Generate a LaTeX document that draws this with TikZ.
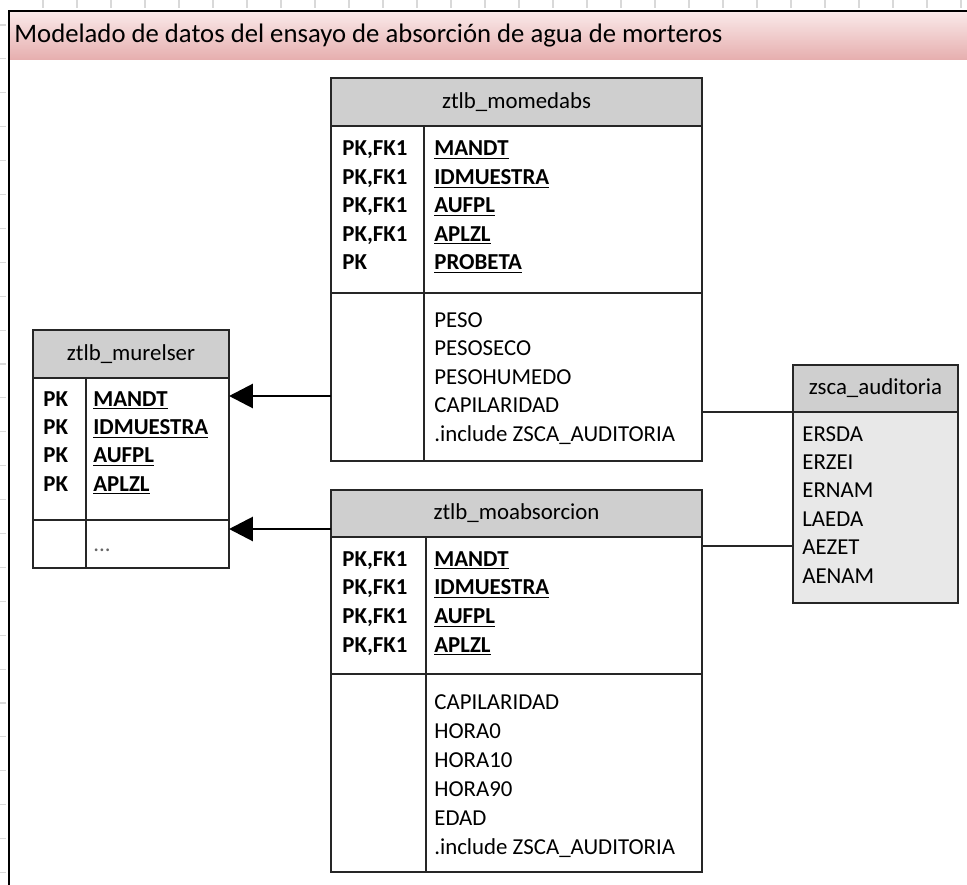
\documentclass[tikz,border=0pt]{standalone}
\usepackage{fontspec}
\setmainfont{Carlito}
\usetikzlibrary{arrows.meta,positioning,fit}
\definecolor{titletop}{RGB}{250,234,234}
\definecolor{titlebot}{RGB}{230,174,174}
\tikzset{
  tbl/.style={draw=black!85, line width=1pt, inner sep=0pt, outer sep=0pt},
  hdr/.style={tbl, fill=black!19},
  hdrtext/.style={inner sep=0pt, font=\fontsize{13}{16}\selectfont},
  fld/.style={anchor=base west, inner sep=0pt, font=\fontsize{13}{16}\selectfont},
  keyfld/.style={fld, font=\fontsize{13}{16}\selectfont\bfseries},
  fkarrow/.style={draw=black, line width=1.7pt, -{Triangle[length=0.48cm,width=0.48cm]}},
  link/.style={draw=black!85, line width=0.7pt},
  tick/.style={draw=black!15, line width=0.6pt}
}
\newcommand{\pkfield}[1]{\underline{#1}}

\begin{document}
\begin{tikzpicture}[x=0.02cm,y=-0.02cm]
\useasboundingbox (0,0) rectangle (967,885);

\foreach \x in {1,...,28} {
\draw[tick] ({9+34*\x},0) -- ++(0,8);
}
\foreach \y in {0,...,25} {
\draw[tick] (0,{25+33.9*\y}) -- ++(6,0);
}

\shade[top color=titletop, bottom color=titlebot] (9,11) rectangle (967,60);
\draw[line width=1pt] (967,11) -- (9,11) -- (9,885);
\node (title) at (14,36) [anchor=west, inner sep=0pt, font=\fontsize{15.2}{18}\selectfont] {Modelado de datos del ensayo de absorción de agua de morteros};

\node (mom-h) [hdr, fit={(331,78) (702,126)}] {};
\node (mom-t) at (mom-h) [hdrtext] {ztlb\_momedabs};
\node (mom-k) [tbl, fit={(331,126) (702,293)}] {};
\node (mom-a) [tbl, fit={(331,293) (702,461)}] {};
\coordinate (mom-c) at (424,126);
\draw[tbl] (mom-c) -- (mom-c |- mom-a.south);
\foreach \i in {1,2,3,4} {
\node (mom-pk\i) at (342,{156+28.4*(\i-1)}) [keyfld] {PK,FK1};
}
\node (mom-pk5) at (342,{156+28.4*4}) [keyfld] {PK};
\foreach \f [count=\i] in {MANDT,IDMUESTRA,AUFPL,APLZL,PROBETA} {
\node (mom-f\i) at (434,{156+28.4*(\i-1)}) [keyfld] {\pkfield{\f}};
}
\foreach \f [count=\i] in {PESO,PESOSECO,PESOHUMEDO,CAPILARIDAD,.include ZSCA\_AUDITORIA} {
\node (mom-a\i) at (434,{327+28.6*(\i-1)}) [fld] {\f};
}

\node (mur-h) [hdr, fit={(33,330) (229,378)}] {};
\node (mur-t) at (mur-h) [hdrtext] {ztlb\_murelser};
\node (mur-k) [tbl, fit={(33,378) (229,520)}] {};
\node (mur-a) [tbl, fit={(33,520) (229,568)}] {};
\coordinate (mur-c) at (86,378);
\draw[tbl] (mur-c) -- (mur-c |- mur-a.south);
\foreach \f [count=\i] in {MANDT,IDMUESTRA,AUFPL,APLZL} {
\node (mur-pk\i) at (43,{406+28.4*(\i-1)}) [keyfld] {PK};
\node (mur-f\i) at (93,{406+28.4*(\i-1)}) [keyfld] {\pkfield{\f}};
}
\node (mur-a1) at (93,551) [fld, text=black!60] {...};

\node (abs-h) [hdr, fit={(331,490) (702,537)}] {};
\node (abs-t) at (abs-h) [hdrtext] {ztlb\_moabsorcion};
\node (abs-k) [tbl, fit={(331,537) (702,674)}] {};
\node (abs-a) [tbl, fit={(331,674) (702,872)}] {};
\coordinate (abs-c) at (426,537);
\draw[tbl] (abs-c) -- (abs-c |- abs-a.south);
\foreach \f [count=\i] in {MANDT,IDMUESTRA,AUFPL,APLZL} {
\node (abs-pk\i) at (342,{566+28.7*(\i-1)}) [keyfld] {PK,FK1};
\node (abs-f\i) at (434,{566+28.7*(\i-1)}) [keyfld] {\pkfield{\f}};
}
\foreach \f [count=\i] in {CAPILARIDAD,HORA0,HORA10,HORA90,EDAD,.include ZSCA\_AUDITORIA} {
\node (abs-a\i) at (434,{709+29*(\i-1)}) [fld] {\f};
}

\node (aud-h) [hdr, fit={(793,365) (958,412)}] {};
\node (aud-t) at (aud-h) [hdrtext] {zsca\_auditoria};
\node (aud-b) [tbl, fill=black!9, fit={(793,412) (958,603)}] {};
\foreach \f [count=\i] in {ERSDA,ERZEI,ERNAM,LAEDA,AEZET,AENAM} {
\node (aud-f\i) at (802,{441+28.4*(\i-1)}) [fld] {\f};
}

\draw[fkarrow] (mom-a.west |- 0,396) -- (mur-k.east |- 0,396);
\draw[fkarrow] (abs-h.west |- 0,529) -- (mur-a.east |- 0,529);
\draw[link] (mom-a.east |- aud-h.south) -- (aud-h.south west);
\draw[link] (abs-k.east |- 0,546) -- (aud-b.west |- 0,546);
\end{tikzpicture}
\end{document}
